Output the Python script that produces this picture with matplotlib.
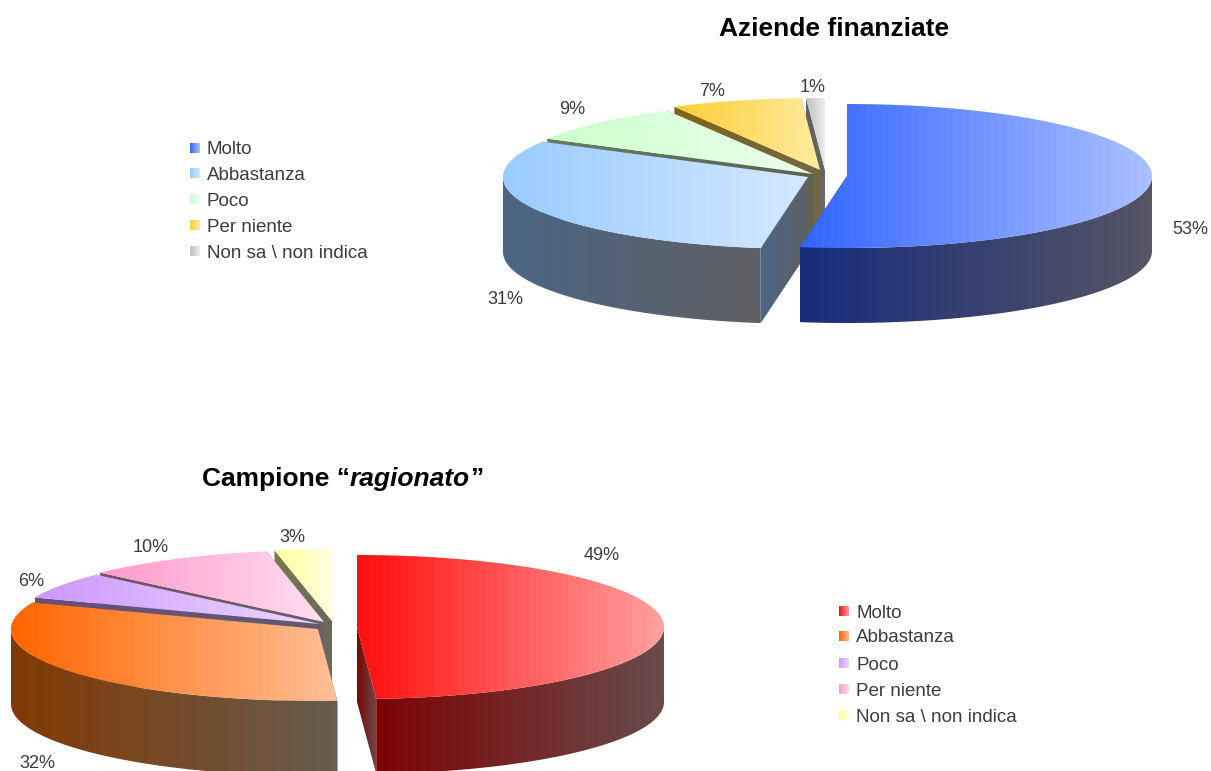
import numpy as np
import matplotlib
matplotlib.use("Agg")
import matplotlib.pyplot as plt
from matplotlib.patches import Polygon

plt.rcParams['font.family'] = ['Liberation Sans', 'DejaVu Sans']

# dati
categorie = ["Molto", "Abbastanza", "Poco", "Per niente", "Non sa \\ non indica"]
valori_aziende = [53, 31, 9, 7, 1]
valori_campione = [49, 32, 6, 10, 3]
etichette_aziende = ["53%", "31%", "9%", "7%", "1%"]
etichette_campione = ["49%", "32%", "6%", "10%", "3%"]

# centro di ogni fetta (esplosione) in pixel
centri_aziende = [(847, 176), (808, 177), (813, 174), (820, 170), (825, 170)]
centri_campione = [(357, 627), (318, 629), (320, 624), (324, 622), (332, 621)]
pos_aziende = [(1190, 228), (505, 297), (572, 107), (712, 89), (813, 85)]
pos_campione = [(602, 553), (37, 761), (31, 579), (151, 545), (292, 536)]

# colori: sopra sinistra/destra, lato sinistra/destra
col_aziende = [
    ((51, 102, 255), (172, 192, 255), (25, 45, 125), (85, 85, 100)),
    ((153, 204, 255), (212, 232, 255), (75, 102, 132), (96, 96, 100)),
    ((204, 255, 204), (236, 255, 236), (100, 125, 100), (90, 100, 80)),
    ((255, 204, 51), (255, 236, 160), (130, 100, 20), (112, 104, 70)),
    ((192, 192, 192), (236, 236, 236), (95, 95, 95), (105, 105, 105)),
]
col_campione = [
    ((255, 15, 15), (255, 160, 160), (125, 5, 5), (105, 75, 75)),
    ((255, 102, 0), (255, 190, 150), (130, 58, 5), (104, 92, 78)),
    ((204, 153, 255), (235, 215, 255), (100, 78, 125), (100, 90, 110)),
    ((255, 153, 204), (255, 222, 240), (122, 78, 100), (110, 95, 105)),
    ((255, 255, 153), (255, 255, 225), (122, 122, 78), (105, 105, 90)),
]

B = 72
DEPTH = 75
GRIGIO = "#3c3c3c"

fig = plt.figure(figsize=(12.11, 7.71), dpi=100)
ax = fig.add_axes([0, 0, 1, 1])


def sfumato(verts, c0, c1):
    verts = np.array(verts)
    x0, x1 = verts[:, 0].min(), verts[:, 0].max()
    y0, y1 = verts[:, 1].min(), verts[:, 1].max()
    if x1 - x0 < 0.5 or y1 - y0 < 0.5:
        return
    t = np.linspace(0, 1, 48)[:, None]
    grad = (np.array(c0) * (1 - t) + np.array(c1) * t) / 255
    im = ax.imshow(grad[None, :, :], extent=(x0, x1, y1, y0), aspect='auto',
                   interpolation='nearest', zorder=2)
    p = Polygon(verts, closed=True, transform=ax.transData)
    im.set_clip_path(p)


def punto(c, ang, A):
    r = np.radians(ang)
    return c[0] + A * np.sin(r), c[1] - B * np.cos(r)


def fetta(c, a0, a1, col, A):
    top0, top1, lato0, lato1 = col
    # pareti radiali
    for ang in (a1, a0):
        x, y = punto(c, ang, A)
        sfumato([c, (x, y), (x, y + DEPTH), (c[0], c[1] + DEPTH)], lato0, lato1)
    # parete curva, solo la parte davanti
    r0, r1 = max(a0, 90), min(a1, 270)
    if r1 > r0:
        angs = np.linspace(r0, r1, 120)
        bordo = [punto(c, v, A) for v in angs]
        sotto = [(x, y + DEPTH) for x, y in bordo[::-1]]
        sfumato(bordo + sotto, lato0, lato1)
    # faccia superiore
    angs = np.linspace(a0, a1, 160)
    sfumato([c] + [punto(c, v, A) for v in angs], top0, top1)


def torta(valori, centri, colori, etichette, posizioni, A):
    ang = np.concatenate([[0], np.cumsum(valori)]) * 360.0 / sum(valori)
    for i in range(len(valori) - 1, -1, -1):
        fetta(centri[i], ang[i], ang[i + 1], colori[i], A)
    for lab, (x, y) in zip(etichette, posizioni):
        ax.text(x, y + 6.5, lab, fontsize=13, color=GRIGIO, ha='center', va='baseline')


def legenda(x, ys, colori):
    for nome, y, col in zip(categorie, ys, colori):
        s = 5
        sfumato([(x, y - s), (x + 2 * s, y - s), (x + 2 * s, y + s), (x, y + s)],
                col[0], col[1])
        ax.text(x + 17, y + 6.5, nome, fontsize=13.5, color=GRIGIO, va='baseline', ha='left')


torta(valori_aziende, centri_aziende, col_aziende, etichette_aziende, pos_aziende, 305)
torta(valori_campione, centri_campione, col_campione, etichette_campione, pos_campione, 307)
legenda(190, [148, 173, 199, 225, 251], col_aziende)
legenda(839, [611, 636, 663, 689, 715], col_campione)

ax.text(834, 36.5, "Aziende finanziate", fontsize=19, fontweight='bold', ha='center',
        va='baseline', color='black')

# titolo con parte in corsivo
fig.canvas.draw()
rend = fig.canvas.get_renderer()
x = 202
for pezzo, stile in [("Campione \u201c", 'normal'), ("ragionato", 'italic'), ("\u201d", 'normal')]:
    t = ax.text(x, 486, pezzo, fontsize=19, fontweight='bold', fontstyle=stile,
                ha='left', va='baseline', color='black')
    # gli spazi in coda non contano nel bbox: misuro con un punto in piu'
    w = ax.text(0, 0, pezzo + ".", fontsize=19, fontweight='bold', fontstyle=stile)
    w2 = ax.text(0, 0, ".", fontsize=19, fontweight='bold', fontstyle=stile)
    x += w.get_window_extent(rend).width - w2.get_window_extent(rend).width
    w.remove()
    w2.remove()

ax.set_xlim(0, 1211)
ax.set_ylim(771, 0)
ax.axis('off')
fig.savefig("out.png", dpi=100, facecolor='white')
